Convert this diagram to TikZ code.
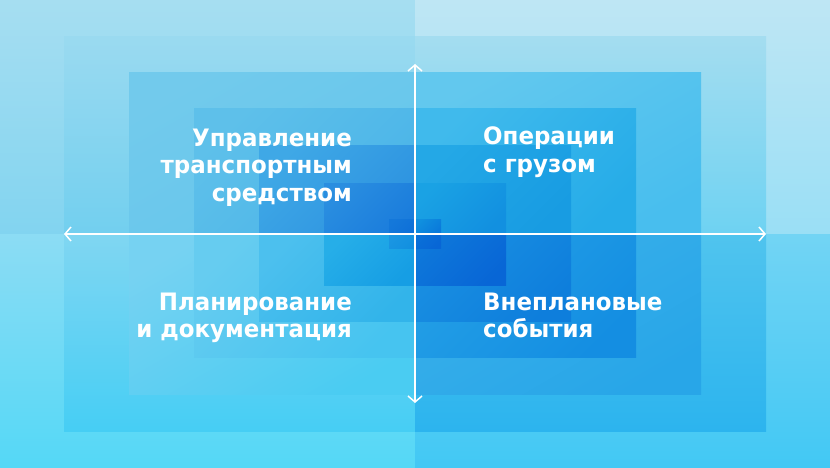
\documentclass[tikz,border=0pt]{standalone}
\usepackage{fontspec}
\setmainfont{DejaVu Sans}
\newfontfamily\lblfont[FakeStretch=0.955]{DejaVu Sans}
\usetikzlibrary{arrows.meta}
% top-left quadrant
\definecolor{tl0a}{HTML}{A6DEF1}\definecolor{tl0b}{HTML}{82D4F0}
\definecolor{tl1a}{HTML}{9ADAF0}\definecolor{tl1b}{HTML}{72CFEF}
\definecolor{tl2a}{HTML}{72CAEC}\definecolor{tl2b}{HTML}{64C6EC}
\definecolor{tl3a}{HTML}{5EC0EA}\definecolor{tl3b}{HTML}{4AB4E8}
\definecolor{tl4a}{HTML}{3FA8E6}\definecolor{tl4b}{HTML}{2C92E0}
\definecolor{tl5a}{HTML}{2A8EE0}\definecolor{tl5b}{HTML}{1A7CDC}
\definecolor{tl6a}{HTML}{1478DA}\definecolor{tl6b}{HTML}{0E70D8}
% top-right quadrant
\definecolor{tr0a}{HTML}{BEE6F4}\definecolor{tr0b}{HTML}{9ADFF5}
\definecolor{tr1a}{HTML}{A4DDF0}\definecolor{tr1b}{HTML}{6ED2F2}
\definecolor{tr2a}{HTML}{62C8EE}\definecolor{tr2b}{HTML}{48BEEE}
\definecolor{tr3a}{HTML}{40BAEC}\definecolor{tr3b}{HTML}{26ACE8}
\definecolor{tr4a}{HTML}{24A8E6}\definecolor{tr4b}{HTML}{189CE2}
\definecolor{tr5a}{HTML}{1AA2E4}\definecolor{tr5b}{HTML}{1290E0}
\definecolor{tr6a}{HTML}{1090DF}\definecolor{tr6b}{HTML}{0A7ADB}
% bottom-left quadrant
\definecolor{bl0a}{HTML}{8CDCF4}\definecolor{bl0b}{HTML}{54D8F6}
\definecolor{bl1a}{HTML}{80D6F2}\definecolor{bl1b}{HTML}{46CEF4}
\definecolor{bl2a}{HTML}{76D2F2}\definecolor{bl2b}{HTML}{4ACCF2}
\definecolor{bl3a}{HTML}{66CCF0}\definecolor{bl3b}{HTML}{46C4F0}
\definecolor{bl4a}{HTML}{4CC0EE}\definecolor{bl4b}{HTML}{32B4EA}
\definecolor{bl5a}{HTML}{26AEE8}\definecolor{bl5b}{HTML}{169EE4}
\definecolor{bl6a}{HTML}{1A96E2}\definecolor{bl6b}{HTML}{1290E0}
% bottom-right quadrant
\definecolor{br0a}{HTML}{72D4F4}\definecolor{br0b}{HTML}{42C8F4}
\definecolor{br1a}{HTML}{50C4EE}\definecolor{br1b}{HTML}{2CB4EE}
\definecolor{br2a}{HTML}{3AB0EA}\definecolor{br2b}{HTML}{28A6E8}
\definecolor{br3a}{HTML}{24A0E6}\definecolor{br3b}{HTML}{148EE2}
\definecolor{br4a}{HTML}{1A90E2}\definecolor{br4b}{HTML}{0E7EDC}
\definecolor{br5a}{HTML}{0E78DA}\definecolor{br5b}{HTML}{0866D6}
\definecolor{br6a}{HTML}{0A70D8}\definecolor{br6b}{HTML}{0866D6}
\begin{document}
\begin{tikzpicture}[x=1pt,y=-1pt,
  qfill/.style n args={3}{top color=#1,bottom color=#2,shading angle=#3,draw=none},
  lbl/.style={text=white,font=\lblfont\bfseries\fontsize{24}{27.5}\selectfont,inner sep=0pt},
  axisline/.style={draw=white,line width=1.5pt,
    {Straight Barb[length=6pt,width=14pt]}-{Straight Barb[length=6pt,width=14pt]}}]
\useasboundingbox (0,0) rectangle (830,468);
\foreach \k/\ang/\xa/\ya/\xb/\yb in {0/0/0/0/830/468,1/0/64/37/766/431,2/30/129/73/701/394,
    3/45/194/109/636/357,4/45/259/146/571/321,5/45/324/183/506/285,6/45/389/219/441/248}{
  \shade[qfill={tl\k a}{tl\k b}{\ang}] (\xa,\ya) rectangle (415,234);
  \shade[qfill={tr\k a}{tr\k b}{\ang}] (415,\ya) rectangle (\xb,234);
  \shade[qfill={bl\k a}{bl\k b}{\ang}] (\xa,234) rectangle (415,\yb);
  \shade[qfill={br\k a}{br\k b}{\ang}] (415,234) rectangle (\xb,\yb);
}
\coordinate (axL) at (64,234);
\coordinate (axR) at (766,234);
\coordinate (axT) at (415,64);
\coordinate (axB) at (415,403);
\draw[axisline] (axL) -- (axR);
\draw[axisline] (axT) -- (axB);
\node[lbl,anchor=base east,align=right] (tl) at (352,201.5) {Управление\\транспортным\\средством};
\node[lbl,anchor=base west,align=left] (tr) at (483,172) {Операции\\с грузом};
\node[lbl,anchor=base east,align=right] (bl) at (352,337.5) {Планирование\\и документация};
\node[lbl,anchor=base west,align=left] (br) at (483,337.5) {Внеплановые\\события};
\end{tikzpicture}
\end{document}
